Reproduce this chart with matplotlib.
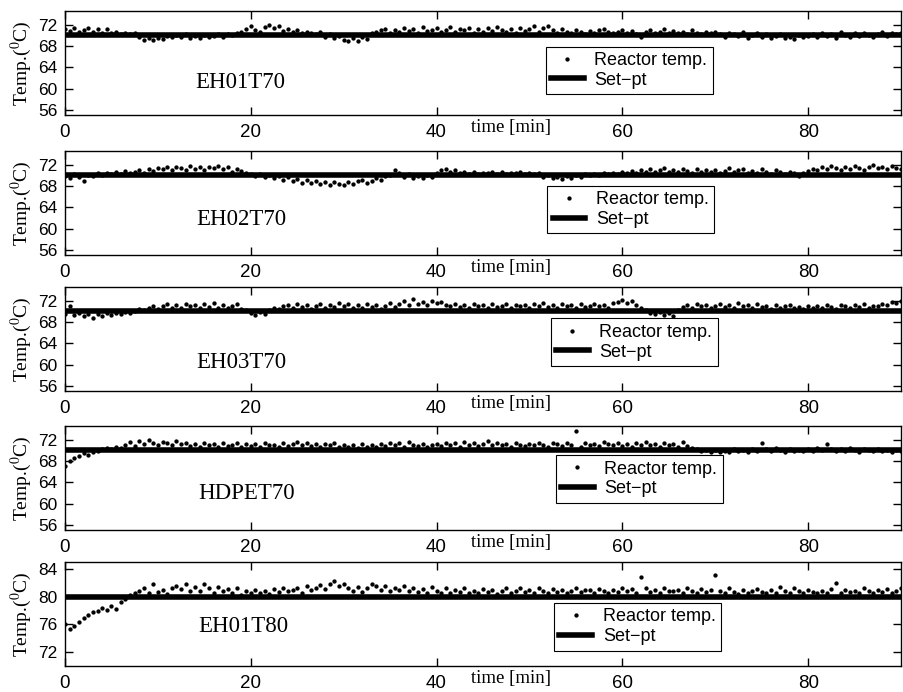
import numpy as np
import matplotlib
matplotlib.use("Agg")
import matplotlib.pyplot as plt

plt.rcParams["font.family"] = "Liberation Sans"
plt.rcParams["mathtext.fontset"] = "stix"

# Sampling interval of the logged reactor temperature [min]
SAMPLE_MIN = 0.5

runs = ["EH01T70", "EH02T70", "EH03T70", "HDPET70", "EH01T80"]
setpoints = [70, 70, 70, 70, 80]

temp_eh01t70 = [
    71.2, 70.8, 71.4, 70.6, 71.0, 71.3, 70.7, 71.1, 70.5, 71.2, 70.4, 70.6, 70.3, 70.5, 70.2, 70.4, 69.6, 69.2, 69.4, 69.1,
    69.5, 69.3, 69.8, 69.6, 70.0, 69.7, 70.2, 69.5, 69.9, 69.4, 70.1, 69.6, 69.8, 70.2, 69.7, 70.3, 70.0, 70.4, 70.6, 71.2,
    71.8, 71.0, 70.6, 71.5, 72.0, 71.3, 71.7, 70.8, 71.1, 70.6, 70.9, 70.4, 70.7, 70.5, 70.3, 70.6, 69.7, 70.2, 69.5, 69.8,
    69.2, 68.9, 69.4, 69.0, 69.6, 69.3, 70.4, 70.6, 70.9, 71.2, 70.5, 71.0, 70.6, 71.4, 70.8, 71.1, 70.5, 71.6, 70.8, 71.0,
    71.3, 70.7, 71.0, 71.5, 70.6, 71.2, 70.9, 71.4, 70.5, 71.1, 70.7, 71.3, 70.8, 71.6, 71.0, 70.6, 71.2, 70.5, 71.4, 70.8,
    71.1, 71.7, 70.6, 71.3, 71.8, 70.9, 70.5, 71.2, 70.7, 70.4, 71.0, 70.6, 70.3, 70.8, 70.5, 70.9, 71.1, 70.6, 70.4, 70.7,
    70.9, 70.5, 70.8, 70.3, 69.6, 70.6, 70.9, 70.4, 70.7, 71.1, 70.5, 70.8, 70.4, 70.6, 70.2, 70.9, 70.5, 70.3, 70.7, 70.4,
    70.6, 70.2, 69.7, 70.5, 70.3, 69.8, 70.6, 69.5, 70.1, 70.4, 69.6, 70.2, 69.4, 69.8, 70.3, 69.5, 69.7, 69.3, 70.1, 69.6,
    69.9, 70.3, 69.6, 70.5, 69.8, 70.2, 69.5, 70.6, 70.0, 69.7, 70.4, 69.8, 70.5, 70.1, 69.6, 70.3, 70.7, 69.9, 70.4, 70.2, 70.5,
]

temp_eh02t70 = [
    69.8, 69.5, 70.2, 69.7, 69.0, 70.0, 69.8, 70.4, 70.1, 70.5, 70.3, 70.6, 70.2, 70.8, 70.4, 70.7, 70.9, 70.5, 71.1, 70.8,
    71.4, 71.2, 71.6, 71.0, 71.5, 71.3, 70.9, 71.7, 71.2, 71.5, 71.0, 71.6, 71.4, 71.8, 71.1, 71.5, 70.6, 71.2, 70.8, 70.5,
    70.3, 69.8, 70.2, 69.6, 70.1, 69.4, 69.9, 69.2, 69.6, 68.9, 69.3, 68.6, 69.1, 68.5, 68.9, 68.3, 68.7, 68.1, 68.8, 68.4,
    68.2, 68.7, 68.4, 68.9, 69.1, 68.6, 69.0, 69.5, 69.2, 69.8, 70.1, 70.9, 70.4, 69.7, 70.2, 69.5, 69.8, 69.4, 70.0, 69.6,
    70.5, 70.9, 71.1, 70.6, 71.0, 70.4, 70.7, 70.3, 70.6, 70.2, 70.5, 70.4, 70.7, 70.3, 70.6, 70.2, 70.5, 70.4, 70.6, 70.3,
    70.5, 70.2, 70.4, 69.6, 70.0, 69.4, 69.7, 69.3, 69.8, 69.5, 70.1, 69.6, 70.2, 70.0, 70.3, 70.1, 70.4, 70.2, 70.5, 70.3,
    70.6, 70.4, 70.8, 70.5, 71.0, 70.7, 71.2, 70.6, 70.9, 71.3, 70.7, 71.0, 70.6, 71.2, 70.8, 70.5, 71.1, 70.7, 70.9, 70.6,
    71.0, 70.5, 70.8, 71.3, 70.6, 70.9, 71.2, 70.5, 70.8, 70.4, 71.1, 70.7, 70.3, 70.9, 70.6, 70.2, 70.7, 70.4, 69.9, 70.5,
    70.8, 71.2, 70.9, 71.5, 71.1, 71.7, 71.3, 71.0, 71.6, 71.2, 71.8, 71.4, 71.0, 71.5, 71.9, 71.3, 71.6, 71.1, 71.7, 71.4, 71.2,
]

temp_eh03t70 = [
    69.5, 71.0, 69.3, 69.7, 69.2, 69.5, 68.8, 69.4, 69.1, 69.6, 69.3, 69.7, 69.5, 69.8, 69.6, 70.0, 70.4, 70.2, 70.6, 70.9,
    70.5, 71.0, 71.3, 70.7, 71.2, 70.6, 71.4, 70.9, 71.1, 70.6, 71.3, 70.8, 71.5, 70.7, 71.1, 70.6, 70.9, 71.3, 70.5, 70.2,
    69.6, 69.3, 69.8, 69.5, 70.2, 70.6, 70.4, 70.9, 71.2, 70.7, 71.4, 70.8, 71.1, 70.5, 71.0, 71.3, 70.6, 71.2, 70.8, 71.5,
    70.9, 71.3, 70.7, 71.1, 70.6, 71.4, 70.8, 71.2, 70.5, 71.0, 71.6, 70.8, 71.3, 71.9, 71.1, 72.2, 71.4, 71.8, 71.2, 72.0,
    71.5, 71.8, 71.2, 71.0, 71.4, 70.8, 71.2, 70.6, 71.3, 70.9, 71.1, 70.7, 71.4, 70.8, 71.0, 71.3, 70.6, 71.2, 70.9, 71.1,
    70.7, 71.3, 70.9, 71.5, 70.8, 71.2, 70.6, 71.4, 70.9, 71.1, 70.7, 71.3, 70.8, 71.0, 71.4, 70.9, 71.2, 70.6, 71.5, 71.8,
    72.1, 71.6, 71.9, 71.2, 70.6, 70.2, 69.7, 69.4, 69.8, 69.3, 69.6, 69.2, 70.3, 70.8, 71.1, 70.7, 71.3, 70.9, 71.2, 70.6,
    71.0, 71.4, 70.8, 71.2, 70.7, 71.5, 70.9, 71.1, 70.6, 71.3, 70.8, 71.0, 70.5, 71.2, 70.7, 70.9, 71.1, 70.6, 70.8, 70.4,
    70.9, 70.6, 71.0, 70.7, 71.1, 70.8, 70.5, 71.2, 70.9, 70.6, 71.1, 70.8, 71.3, 70.7, 71.0, 70.9, 71.4, 71.2, 71.7, 71.5, 71.9,
]

temp_hdpet70 = [
    67.0, 68.0, 68.6, 69.0, 69.4, 69.2, 69.7, 69.8, 70.3, 70.5, 70.2, 70.6, 70.4, 71.0, 71.5, 70.8, 71.7, 71.2, 71.9, 71.4,
    71.0, 71.6, 71.3, 70.9, 71.8, 71.1, 71.4, 70.8, 71.2, 70.7, 71.3, 70.9, 71.1, 70.6, 71.4, 70.8, 71.0, 71.3, 70.7, 71.2,
    70.8, 71.1, 70.6, 71.3, 70.9, 71.0, 70.7, 71.4, 70.8, 71.2, 71.6, 71.0, 71.4, 70.8, 71.2, 70.6, 71.1, 70.9, 71.3, 70.7,
    71.0, 70.6, 70.9, 70.5, 71.1, 70.7, 71.0, 70.6, 71.2, 70.8, 71.4, 70.9, 71.3, 70.7, 71.5, 71.0, 70.8, 71.2, 70.6, 71.0,
    71.2, 70.8, 71.4, 70.9, 71.3, 70.7, 71.5, 71.0, 71.3, 70.8, 71.1, 71.8, 71.0, 71.4, 70.9, 71.2, 70.7, 71.3, 71.0, 70.8,
    71.2, 70.9, 71.4, 71.0, 70.7, 71.3, 71.2, 70.8, 71.3, 70.9, 73.6, 70.7, 71.4, 71.0, 71.2, 70.8, 71.5, 71.1, 70.9, 71.3,
    70.8, 71.1, 70.7, 71.3, 70.9, 71.5, 71.0, 71.2, 70.6, 71.4, 70.9, 71.1, 70.7, 71.6, 70.8, 70.5, 70.2, 69.8, 70.1, 69.7,
    70.0, 69.6, 69.9, 69.7, 70.2, 69.8, 70.0, 69.6, 70.3, 69.9, 71.4, 70.2, 69.8, 70.4, 70.0, 69.7, 70.3, 69.9, 70.1, 69.8,
    70.2, 69.9, 70.4, 70.0, 71.1, 70.3, 69.8, 70.2, 69.9, 70.4, 70.1, 69.7, 70.3, 70.0, 69.8, 70.2, 69.9, 70.1, 69.7, 70.0, 69.8,
]

temp_eh01t80 = [
    76.0, 75.3, 75.8, 76.4, 77.0, 77.4, 77.8, 78.0, 78.4, 78.1, 78.6, 78.2, 79.3, 79.7, 80.2, 80.6, 80.8, 81.2, 80.5, 81.8,
    80.7, 81.0, 80.4, 81.3, 81.5, 81.1, 81.8, 80.9, 81.4, 80.8, 81.9, 81.2, 80.6, 81.4, 80.9, 81.1, 80.5, 81.2, 80.3, 80.8,
    80.5, 81.0, 80.6, 80.9, 80.4, 81.1, 80.7, 81.3, 80.8, 81.0, 81.2, 80.6, 81.5, 81.0, 81.3, 81.7, 81.1, 81.9, 82.3, 81.6,
    81.8, 81.2, 80.9, 81.4, 80.7, 81.2, 81.9, 81.5, 81.0, 81.6, 80.8, 81.3, 81.0, 81.5, 80.9, 81.2, 80.7, 81.1, 80.6, 81.4,
    80.9, 80.6, 81.2, 80.5, 81.0, 80.7, 81.3, 80.6, 80.9, 80.5, 81.1, 80.7, 81.0, 80.4, 80.8, 81.2, 80.6, 80.9, 81.3, 80.7,
    81.0, 80.6, 81.2, 80.8, 80.5, 81.1, 80.7, 81.0, 80.6, 80.9, 81.3, 80.7, 81.0, 81.0, 80.6, 81.1, 80.8, 80.5, 81.0, 80.7,
    81.2, 80.8, 81.1, 80.6, 82.8, 81.3, 80.7, 81.0, 80.5, 81.2, 80.9, 80.8, 81.0, 80.6, 81.3, 80.9, 80.5, 81.1, 80.7, 81.0,
    83.2, 80.9, 80.5, 81.2, 80.7, 80.4, 81.0, 80.6, 80.9, 81.1, 80.7, 80.5, 81.0, 80.6, 81.4, 80.8, 80.5, 81.2, 80.9, 80.6,
    81.0, 80.7, 80.5, 80.9, 80.6, 81.1, 82.0, 80.5, 81.0, 80.7, 80.9, 80.6, 81.2, 80.8, 80.5, 81.0, 80.7, 81.1, 80.6, 80.9, 81.2,
]

temperatures = [temp_eh01t70, temp_eh02t70, temp_eh03t70, temp_hdpet70, temp_eh01t80]

yticks_70 = [56, 60, 64, 68, 72]
yticks_80 = [72, 76, 80, 84]
xticks = [0, 20, 40, 60, 80]

# Layout (figure fractions / axes fractions)
panel_bottoms = [0.8338, 0.6315, 0.435, 0.2341, 0.0376]
legend_anchor = [(0.575, 0.66), (0.577, 0.667), (0.581, 0.699), (0.587, 0.721), (0.585, 0.606)]
name_pos = [(0.1555, 0.316), (0.157, 0.343), (0.157, 0.277), (0.160, 0.348), (0.160, 0.377)]

fig = plt.figure(figsize=(9.04, 6.92), dpi=100)

for i, (name, sp, temp) in enumerate(zip(runs, setpoints, temperatures)):
    ax = fig.add_axes([0.0719, panel_bottoms[i], 0.9248, 0.150])
    t = np.arange(len(temp)) * SAMPLE_MIN
    ax.plot(t, temp, ".", color="k", ms=4.2, label="Reactor temp.")
    ax.plot(t, np.full(len(t), sp), "-", color="k", lw=4, label="Set\u2212pt")

    ax.set_xlim(0, 90)
    if sp == 80:
        ax.set_ylim(70, 85)
        ax.set_yticks(yticks_80)
    else:
        ax.set_ylim(55.1, 74.5)
        ax.set_yticks(yticks_70)
    ax.set_xticks(xticks)

    ax.tick_params(direction="in", top=True, right=True, length=6, width=1)
    ax.tick_params(axis="x", pad=6.5, labelsize=13.5)
    ax.tick_params(axis="y", pad=5.5, labelsize=12.5)
    for s in ax.spines.values():
        s.set_linewidth(1.0)

    ax.set_ylabel("Temp.($^0$C)", family="Liberation Serif", fontsize=14)
    ax.yaxis.set_label_coords(-0.037, 0.5)

    ax.text(name_pos[i][0], name_pos[i][1], name, transform=ax.transAxes,
            family="Liberation Serif", fontsize=16.5, va="center", ha="left")
    ax.text(0.5335, -0.125, "time [min]", transform=ax.transAxes,
            family="Liberation Serif", fontsize=13.5, va="center", ha="center")

    leg = ax.legend(loc="upper left", bbox_to_anchor=legend_anchor[i], numpoints=1,
                    fontsize=13, frameon=True, fancybox=False, edgecolor="k",
                    framealpha=1, borderaxespad=0, handlelength=1.8,
                    handletextpad=0.6, borderpad=0.3, labelspacing=0.15)
    leg.get_frame().set_linewidth(0.8)

fig.savefig("out.png", dpi=100)
